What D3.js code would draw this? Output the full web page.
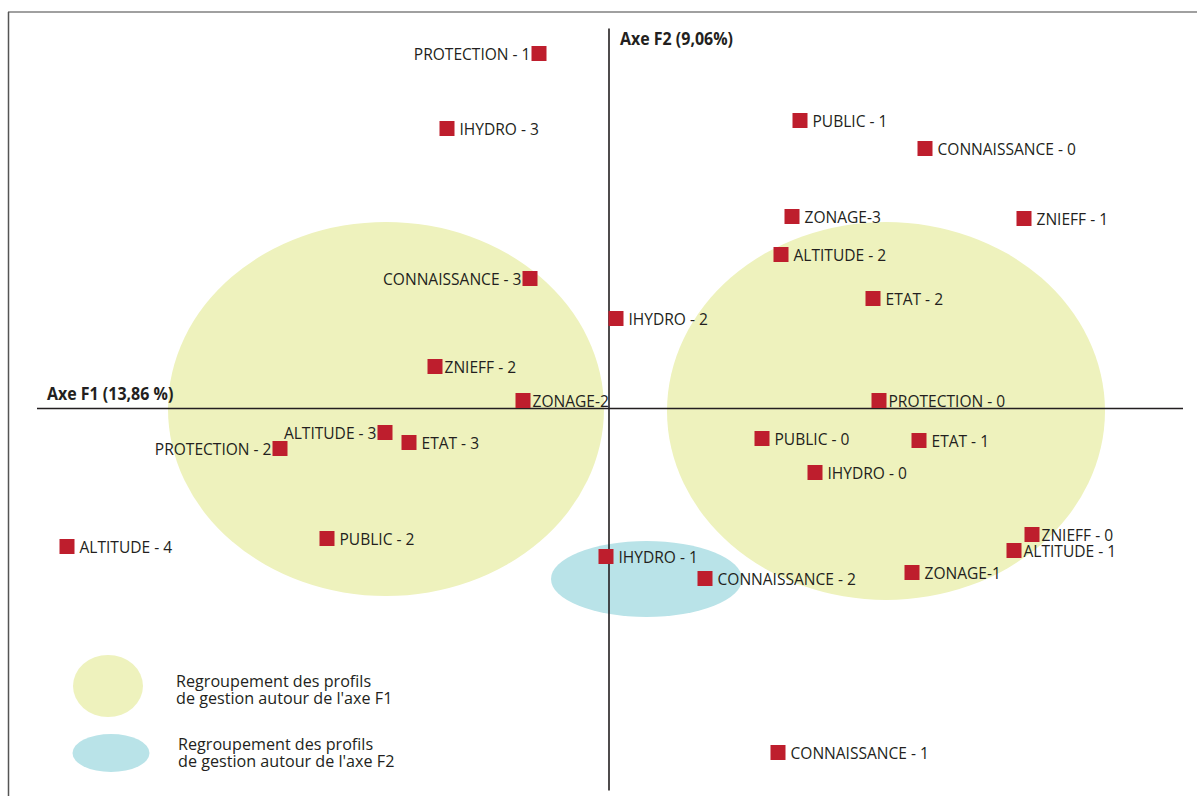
<!DOCTYPE html>
<html><head><meta charset="utf-8">
<script src="https://cdn.jsdelivr.net/npm/d3@7"></script>
<style>
html,body{margin:0;padding:0;background:#fff;}
svg{display:block;}
text{font-family:"Open Sans",sans-serif;fill:#231f20;}
</style></head>
<body>
<svg id="c" width="1197" height="796"></svg>
<script>
// Modalities (categories) and their coordinates on the factor plane
const categories = ["PROTECTION - 1","IHYDRO - 3","PUBLIC - 1","CONNAISSANCE - 0","ZONAGE-3","ZNIEFF - 1",
  "ALTITUDE - 2","ETAT - 2","CONNAISSANCE - 3","IHYDRO - 2","ZNIEFF - 2","ZONAGE-2","PROTECTION - 0",
  "ALTITUDE - 3","PROTECTION - 2","ETAT - 3","PUBLIC - 0","ETAT - 1","IHYDRO - 0","ZNIEFF - 0",
  "ALTITUDE - 1","ZONAGE-1","ALTITUDE - 4","PUBLIC - 2","IHYDRO - 1","CONNAISSANCE - 2","CONNAISSANCE - 1"];
const f1 = [-0.35,-0.81,0.955,1.58,0.915,2.075,0.86,1.32,-0.395,0.035,-0.87,-0.43,1.35,
  -1.12,-1.645,-1.00,0.765,1.55,1.03,2.115,2.025,1.515,-2.71,-1.41,-0.015,0.48,0.845];
const f2 = [1.775,1.40,1.44,1.30,0.96,0.95,0.77,0.55,0.65,0.45,0.21,0.04,0.04,
  -0.12,-0.20,-0.17,-0.15,-0.16,-0.32,-0.63,-0.71,-0.82,-0.69,-0.65,-0.74,-0.85,-1.72];
// labels written to the left of their marker
const leftLabels = ["PROTECTION - 1","CONNAISSANCE - 3","ALTITUDE - 3","PROTECTION - 2"];
// labels placed tight against their marker
const tightLabels = ["ZONAGE-2","PROTECTION - 0","ZNIEFF - 0","ALTITUDE - 1","ZNIEFF - 2"];

// Groupings (ellipses) in factor units: centre f1, centre f2, half-width, half-height
const groupNames = ["F1 gauche","F1 droite","F2"];
const groupCx = [-1.115, 1.385, 0.1875];
const groupCy = [-0.0025, -0.0125, -0.8525];
const groupRx = [1.09, 1.095, 0.4775];
const groupRy = [0.935, 0.945, 0.19];
const groupType = ["F1","F1","F2"];

const axisTitles = ["Axe F1 (13,86 %)","Axe F2 (9,06%)"];
const legendLabels = [["Regroupement des profils","de gestion autour de l'axe F1"],
                      ["Regroupement des profils","de gestion autour de l'axe F2"]];

const colors = {F1:"#eef2bd", F2:"#b9e3e8", mark:"#be1e2d"};

const svg = d3.select("#c");
const x = d3.scaleLinear().domain([-3, 3]).range([9, 1209]);
const y = d3.scaleLinear().domain([-2, 2]).range([808.5, 8.5]);

// condensed text helper
function ctext(sel, tx, ty, str, opts){
  const t = sel.append("text")
    .attr("transform",`translate(${tx},${ty}) scale(${opts.sx||0.92},1)`)
    .attr("font-size",opts.size||17)
    .attr("text-anchor",opts.anchor||"start")
    .text(str);
  if (opts.bold) t.attr("font-weight","bold");
  return t;
}

// frame
svg.append("line").attr("x1",8).attr("x2",1197).attr("y1",12).attr("y2",12)
  .attr("stroke","#808080").attr("stroke-width",1.5);
svg.append("line").attr("x1",8.5).attr("x2",8.5).attr("y1",12).attr("y2",796)
  .attr("stroke","#555").attr("stroke-width",1.5);

// ellipses
svg.selectAll("ellipse.g").data(groupNames).join("ellipse").attr("class","g")
  .attr("cx",(d,i)=>x(groupCx[i])).attr("cy",(d,i)=>y(groupCy[i]))
  .attr("rx",(d,i)=>x(groupRx[i])-x(0)).attr("ry",(d,i)=>y(0)-y(groupRy[i]))
  .attr("fill",(d,i)=>colors[groupType[i]]);

// axes through origin
svg.append("line").attr("x1",x(-2.86)).attr("x2",x(2.87)).attr("y1",y(0)).attr("y2",y(0))
  .attr("stroke","#231f20").attr("stroke-width",1.6);
svg.append("line").attr("x1",x(0)).attr("x2",x(0)).attr("y1",y(1.9)).attr("y2",y(-1.91))
  .attr("stroke","#231f20").attr("stroke-width",1.6);

ctext(svg, 47, 400, axisTitles[0], {size:17, sx:0.94, bold:true});
ctext(svg, x(0)+11, 45, axisTitles[1], {size:17, sx:0.94, bold:true});

// points
const pts = categories.map((c,i)=>({name:c, a:f1[i], b:f2[i]}));
const s = 15;
svg.selectAll("rect.p").data(pts).join("rect").attr("class","p")
  .attr("x",d=>x(d.a)-s/2).attr("y",d=>y(d.b)-s/2).attr("width",s).attr("height",s)
  .attr("fill",colors.mark);
pts.forEach(d=>{
  const left = leftLabels.includes(d.name);
  const gap = tightLabels.includes(d.name) ? 2 : 5;
  const tx = left ? x(d.a)-s/2-1 : x(d.a)+s/2+gap;
  ctext(svg, tx, y(d.b)+6.5, d.name, {size:17, sx:0.915, anchor:left?"end":"start"});
});

// legend
const legY = [686, 753];
const legRx = [35, 38.5], legRy = [31, 19];
const legTx = [176, 178];
const legBase = [687, 750];
legendLabels.forEach((lines,i)=>{
  svg.append("ellipse").attr("cx",i?111:108).attr("cy",legY[i]).attr("rx",legRx[i]).attr("ry",legRy[i])
    .attr("fill",colors[i?"F2":"F1"]);
  lines.forEach((l,j)=>ctext(svg, legTx[i], legBase[i]+j*17, l, {size:17, sx:0.95}));
});
</script>
</body></html>
